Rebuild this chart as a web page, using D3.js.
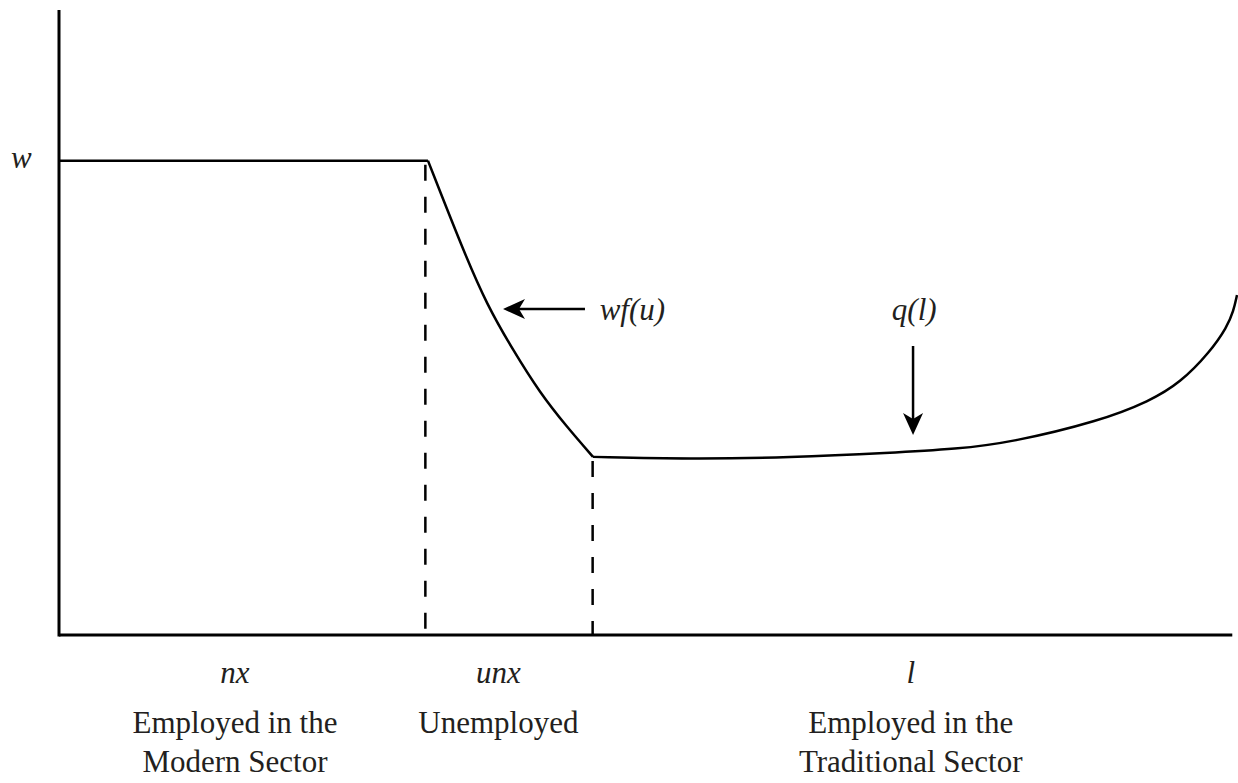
<!DOCTYPE html>
<html><head><meta charset="utf-8">
<script src="https://cdn.jsdelivr.net/npm/d3@7"></script>
<style>body{margin:0;background:#fff}svg{display:block}text{font-family:"Liberation Serif","Times New Roman",serif;fill:#231f20}</style>
</head><body><svg id="c" width="1238" height="783"></svg>
<script>
// Data (abstract units: x 0..100 along labour axis, y 0..100 wage)
const wageLevel = 75.9;
const modernX = [0, 31.32];
const wfuX = [31.32, 34.30, 36.33, 38.54, 40.83, 43.12, 45.33];
const wfuY = [75.9, 61.6, 52.8, 45.6, 38.72, 33.28, 28.5];
const qlX = [45.33, 53.57, 62.05, 70.54, 76.23, 80.73, 88.37, 92.61, 95.16, 97.71, 99.15, 99.7, 100];
const qlY = [28.5, 28.16, 28.4, 29.12, 29.76, 30.77, 34.24, 37.44, 40.32, 45.28, 49.28, 51.8, 54.4];
const boundaries = [31.1, 45.3];
const boundaryTop = [75.9, 28.5];
const symbolLabels = ["nx", "unx", "l"];
const symbolX = [14.94, 37.3, 72.3];
const descLabels = [["Employed in the", "Modern Sector"], ["Unemployed"], ["Employed in the", "Traditional Sector"]];
const curveLabels = ["wf(u)", "q(l)"];

const svg = d3.select("#c");
const x = d3.scaleLinear().domain([0, 100]).range([59, 1237]);
const y = d3.scaleLinear().domain([0, 100]).range([635, 10]);

// axes
svg.append("line").attr("x1", x(0)).attr("x2", x(0)).attr("y1", y(100)).attr("y2", y(0) + 1.5)
  .attr("stroke", "#000").attr("stroke-width", 3);
svg.append("line").attr("x1", x(0)).attr("x2", x(99.6)).attr("y1", y(0)).attr("y2", y(0))
  .attr("stroke", "#000").attr("stroke-width", 3);

// dashed boundaries
boundaries.forEach((b, i) => {
  svg.append("line").attr("x1", x(b)).attr("x2", x(b)).attr("y1", y(boundaryTop[i]) + 4).attr("y2", y(0))
    .attr("stroke", "#000").attr("stroke-width", 2.5).attr("stroke-dasharray", "16,16");
});

// curve pieces
const lin = d3.line().x(d => x(d[0])).y(d => y(d[1]));
const smooth = d3.line().x(d => x(d[0])).y(d => y(d[1])).curve(d3.curveBasis);
svg.append("path").attr("d", lin(modernX.map(v => [v, wageLevel])))
  .attr("fill", "none").attr("stroke", "#000").attr("stroke-width", 2.5);
svg.append("path").attr("d", smooth(wfuX.map((v, i) => [v, wfuY[i]])))
  .attr("fill", "none").attr("stroke", "#000").attr("stroke-width", 2.5);
svg.append("path").attr("d", smooth(qlX.map((v, i) => [v, qlY[i]])))
  .attr("fill", "none").attr("stroke", "#000").attr("stroke-width", 2.5);

// arrows
const defs = svg.append("defs");
defs.append("marker").attr("id", "ah").attr("viewBox", "0 0 22 22").attr("refX", 6).attr("refY", 11)
  .attr("markerWidth", 22).attr("markerHeight", 22).attr("markerUnits", "userSpaceOnUse").attr("orient", "auto")
  .append("path").attr("d", "M22,11 L0,1 L6,11 L0,21 Z").attr("fill", "#000");

svg.append("line").attr("x1", x(44.65)).attr("x2", x(39.05)).attr("y1", y(52.16)).attr("y2", y(52.16))
  .attr("stroke", "#000").attr("stroke-width", 2.5).attr("marker-end", "url(#ah)");
svg.append("line").attr("x1", x(72.5)).attr("x2", x(72.5)).attr("y1", y(46.24)).attr("y2", y(34.56))
  .attr("stroke", "#000").attr("stroke-width", 2.5).attr("marker-end", "url(#ah)");

// labels
const fs = 31;
svg.append("text").attr("x", 11).attr("y", 168).attr("font-size", fs).attr("font-style", "italic").text("w");
svg.append("text").attr("x", x(45.9)).attr("y", 320).attr("font-size", fs).attr("font-style", "italic").text(curveLabels[0]);
svg.append("text").attr("x", x(72.6)).attr("y", 320).attr("text-anchor", "middle").attr("font-size", fs).attr("font-style", "italic").text(curveLabels[1]);

symbolLabels.forEach((s, i) => {
  svg.append("text").attr("x", x(symbolX[i])).attr("y", 683).attr("text-anchor", "middle")
    .attr("font-size", fs).attr("font-style", "italic").text(s);
  descLabels[i].forEach((t, j) => {
    svg.append("text").attr("x", x(symbolX[i])).attr("y", 733 + j * 39).attr("text-anchor", "middle")
      .attr("font-size", fs).text(t);
  });
});
</script></body></html>
